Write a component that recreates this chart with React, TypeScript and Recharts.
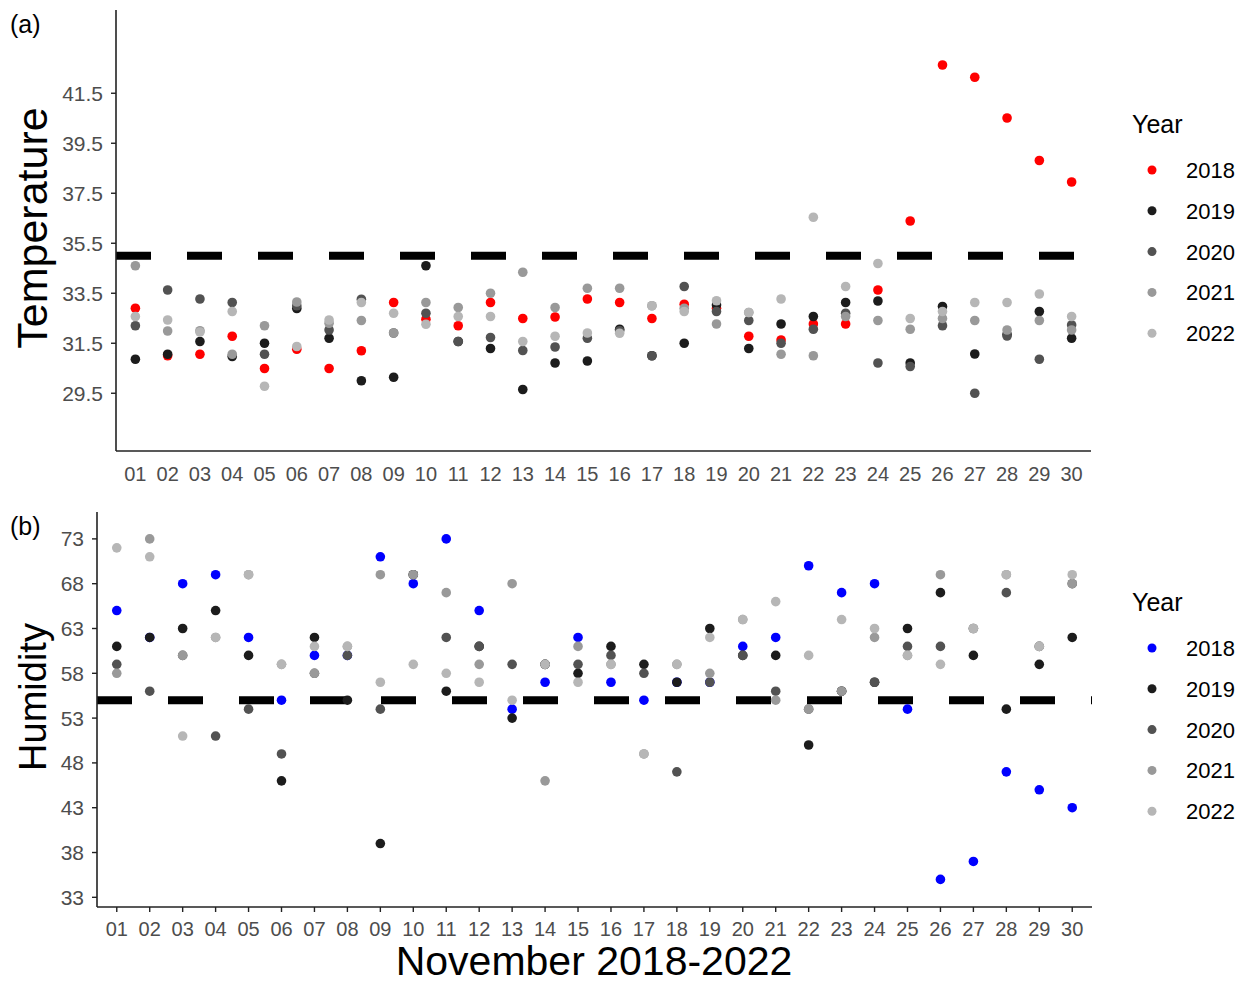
import { ScatterChart, Scatter, XAxis, YAxis, ReferenceLine } from "recharts";

const days = [1, 2, 3, 4, 5, 6, 7, 8, 9, 10, 11, 12, 13, 14, 15, 16, 17, 18, 19, 20, 21, 22, 23, 24, 25, 26, 27, 28, 29, 30];
const years = ["2018", "2019", "2020", "2021", "2022"];

// temperature per year, Nov 01..30
const temp2018 = [32.9, 31.0, 31.06, 31.78, 30.49, 31.26, 30.49, 31.2, 33.13, 32.46, 32.2, 33.13, 32.49, 32.55, 33.27, 33.13, 32.49, 33.06, 32.9, 31.78, 31.63, 32.27, 32.27, 33.63, 36.39, 42.63, 42.14, 40.51, 38.81, 37.95];
const temp2019 = [30.86, 31.06, 31.57, 30.97, 31.5, 32.89, 31.7, 30.0, 30.14, 34.6, 31.57, 31.29, 29.65, 30.71, 30.79, 32.06, 31.0, 31.5, 33.03, 31.29, 32.27, 32.57, 33.13, 33.19, 30.71, 32.97, 31.07, 31.85, 32.77, 31.7];
const temp2020 = [32.2, 33.63, 33.27, 33.13, 31.06, 33.0, 32.03, 33.26, 31.91, 32.7, 31.57, 31.73, 31.21, 31.35, 31.7, 32.0, 31.0, 33.77, 32.77, 32.41, 31.5, 32.06, 32.7, 30.71, 30.57, 32.2, 29.5, 31.79, 30.86, 32.23];
const temp2021 = [34.6, 31.99, 32.0, 31.06, 32.2, 33.15, 32.3, 32.41, 31.91, 33.13, 32.93, 33.5, 34.34, 32.93, 33.7, 33.7, 33.0, 32.9, 32.27, 32.73, 31.06, 31.0, 32.57, 32.41, 32.06, 32.49, 32.41, 32.03, 32.41, 32.03];
const temp2022 = [32.57, 32.43, 31.95, 32.77, 29.78, 31.37, 32.43, 33.13, 32.7, 32.26, 32.57, 32.57, 31.57, 31.78, 31.91, 31.9, 33.0, 32.77, 33.2, 32.73, 33.27, 36.54, 33.77, 34.69, 32.49, 32.77, 33.13, 33.13, 33.47, 32.57];

// humidity per year
const hum2018 = [65, 62, 68, 69, 62, 55, 60, 60, 71, 68, 73, 65, 54, 57, 62, 57, 55, 57, 57, 61, 62, 70, 67, 68, 54, 35, 37, 47, 45, 43];
const hum2019 = [61, 62, 63, 65, 60, 46, 62, 55, 39, 69, 56, 61, 53, 59, 58, 61, 59, 57, 63, 60, 60, 50, 56, 57, 63, 67, 60, 54, 59, 62];
const hum2020 = [59, 56, 60, 51, 54, 49, 58, 60, 54, 69, 62, 61, 59, 59, 59, 60, 58, 47, 57, 60, 56, 54, 56, 57, 61, 61, 63, 67, 61, 68];
const hum2021 = [58, 73, 60, 62, 69, 59, 58, 61, 69, 69, 67, 59, 68, 46, 61, 59, 49, 59, 58, 64, 55, 54, 56, 62, 60, 69, 63, 69, 61, 68];
const hum2022 = [72, 71, 51, 62, 69, 59, 61, 61, 57, 59, 58, 57, 55, 59, 57, 59, 49, 59, 62, 64, 66, 60, 64, 63, 60, 59, 63, 69, 61, 69];

const tempTicks = [29.5, 31.5, 33.5, 35.5, 37.5, 39.5, 41.5];
const humTicks = [33, 38, 43, 48, 53, 58, 63, 68, 73];

const greys = ["#1c1c1c", "#525252", "#999999", "#b6b6b6"];
const tempColors = ["#ff0000", ...greys];
const humColors = ["#0000ff", ...greys];

const FONT = "'Liberation Sans', Arial, sans-serif";

const toPoints = (vals: number[]) => days.map((d, i) => ({ day: d, value: vals[i] }));

type PanelProps = {
  series: number[][];
  colors: string[];
  domain: [number, number];
  ticks: number[];
  refY: number;
  height: number;
  yWidth: number;
  margin: { top: number; right: number; bottom: number; left: number };
  xTickLines: boolean;
};

function Panel({ series, colors, domain, ticks, refY, height, yWidth, margin, xTickLines }: PanelProps) {
  return (
    <ScatterChart width={1242} height={height} margin={margin}>
      <XAxis
        type="number"
        dataKey="day"
        domain={[0.4, 30.6]}
        ticks={days}
        interval={0}
        allowDataOverflow
        tickFormatter={(d) => String(d).padStart(2, "0")}
        tick={{ fontSize: 20, fill: "#4d4d4d", fontFamily: FONT }}
        axisLine={{ stroke: "#222", strokeWidth: 1.6 }}
        tickLine={xTickLines ? { stroke: "#222", strokeWidth: 1.4 } : false}
        tickSize={5}
        tickMargin={xTickLines ? 10 : 11}
        height={36}
      />
      <YAxis
        type="number"
        dataKey="value"
        domain={domain}
        ticks={ticks}
        interval={0}
        allowDataOverflow
        tick={{ fontSize: 21, fill: "#4d4d4d", fontFamily: FONT }}
        axisLine={{ stroke: "#222", strokeWidth: 1.6 }}
        tickLine={{ stroke: "#222", strokeWidth: 1.4 }}
        tickSize={5}
        tickMargin={8}
        width={yWidth}
      />
      {series.map((vals, i) => (
        <Scatter
          key={years[i]}
          name={years[i]}
          data={toPoints(vals)}
          fill={colors[i]}
          isAnimationActive={false}
          shape={(p: any) => <circle cx={p.cx} cy={p.cy} r={4.8} fill={colors[i]} />}
        />
      ))}
      <ReferenceLine y={refY} stroke="#000" strokeWidth={8} strokeDasharray="35 36" />
    </ScatterChart>
  );
}

function LegendBlock({ top, colors }: { top: number; colors: string[] }) {
  return (
    <g fontFamily={FONT}>
      <text x={1132} y={top} fontSize={25} fill="#000">Year</text>
      {years.map((y, i) => (
        <g key={y}>
          <circle cx={1152} cy={top + 37 + i * 40.8} r={4.5} fill={colors[i]} />
          <text x={1186} y={top + 37 + i * 40.8} dy="0.36em" fontSize={22} fill="#000">{y}</text>
        </g>
      ))}
    </g>
  );
}

export default function App() {
  return (
    <div style={{ position: "absolute", left: 0, top: 0, width: 1242, height: 984, background: "#fff" }}>
      <div style={{ position: "absolute", left: 0, top: 0 }}>
        <Panel
          series={[temp2018, temp2019, temp2020, temp2021, temp2022]}
          colors={tempColors}
          domain={[27.19, 44.83]}
          ticks={tempTicks}
          refY={35}
          height={500}
          yWidth={116}
          margin={{ top: 10, right: 151, bottom: 13, left: 0 }}
          xTickLines={false}
        />
      </div>
      <div style={{ position: "absolute", left: 0, top: 500 }}>
        <Panel
          series={[hum2018, hum2019, hum2020, hum2021, hum2022]}
          colors={humColors}
          domain={[31.92, 76.0]}
          ticks={humTicks}
          refY={55}
          height={440}
          yWidth={97}
          margin={{ top: 12, right: 150, bottom: -3, left: 0 }}
          xTickLines={true}
        />
      </div>
      <svg width={1242} height={984} style={{ position: "absolute", left: 0, top: 0, pointerEvents: "none" }}>
        <g fontFamily={FONT} fill="#000">
          <text x={10} y={33} fontSize={25}>(a)</text>
          <text x={10} y={535} fontSize={25}>(b)</text>
          <text transform="translate(47,228) rotate(-90)" textAnchor="middle" fontSize={43}>Temperature</text>
          <text transform="translate(46,697) rotate(-90)" textAnchor="middle" fontSize={38}>Humidity</text>
          <text x={594} y={975} textAnchor="middle" fontSize={41}>November 2018-2022</text>
        </g>
        <LegendBlock top={133} colors={tempColors} />
        <LegendBlock top={611} colors={humColors} />
      </svg>
    </div>
  );
}
